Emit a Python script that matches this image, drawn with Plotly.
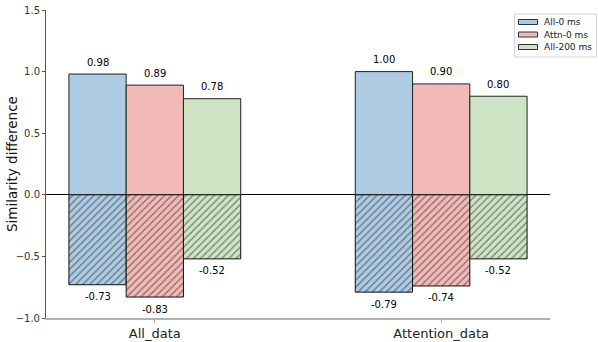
import plotly.graph_objects as go

categories = ["All_data", "Attention_data"]
series_names = ["All-0 ms", "Attn-0 ms", "All-200 ms"]
positive_values = [[0.98, 1.00], [0.89, 0.90], [0.78, 0.80]]
negative_values = [[-0.73, -0.79], [-0.83, -0.74], [-0.52, -0.52]]
colors = ["#aecbe4", "#f1bab6", "#cde4c4"]
ytick_vals = [-1.0, -0.5, 0.0, 0.5, 1.0, 1.5]
y_title = "Similarity difference"

W, H = 598, 342
L, R, T, B = 46, 48, 10, 24
PW, PH = W - L - R, H - T - B


def px_x(px):
    return (px - L) / PW


def px_y(py):
    return (H - B - py) / PH


xpos = list(range(len(categories)))
bar_w = 0.2
offsets = [-0.3, -0.1, 0.1]

fig = go.Figure()
annotations = []
shapes = []
for i, name in enumerate(series_names):
    fig.add_trace(go.Bar(
        x=xpos, y=positive_values[i], name=name, width=bar_w, offset=offsets[i],
        marker=dict(color=colors[i], line=dict(color="#222222", width=1)),
        showlegend=False,
    ))
    fig.add_trace(go.Bar(
        x=xpos, y=negative_values[i], name=name, width=bar_w, offset=offsets[i],
        marker=dict(color=colors[i], line=dict(color="#111111", width=1),
                    pattern=dict(shape="/", fgcolor="#1a1a1a", bgcolor=colors[i],
                                 size=5, solidity=0.25, fillmode="overlay")),
        showlegend=False,
    ))
    for j, x in enumerate(xpos):
        cx = x + offsets[i] + bar_w / 2
        pv = positive_values[i][j]
        nv = negative_values[i][j]
        annotations.append(dict(x=cx, y=pv, text=f"{pv:.2f}", showarrow=False,
                                yshift=12, font=dict(size=10, color="black")))
        annotations.append(dict(x=cx, y=nv, text=f"{nv:.2f}", showarrow=False,
                                yshift=-12, font=dict(size=10, color="black")))

# custom matplotlib-like legend
shapes.append(dict(type="rect", xref="paper", yref="paper",
                   x0=px_x(514.5), x1=px_x(596.5), y0=px_y(57), y1=px_y(14),
                   line=dict(color="#d5d5d5", width=1), fillcolor="white", layer="above"))
for i, name in enumerate(series_names):
    cy = 22 + i * 12.5
    shapes.append(dict(type="rect", xref="paper", yref="paper",
                       x0=px_x(518.5), x1=px_x(537.5), y0=px_y(cy + 2.5), y1=px_y(cy - 2.5),
                       line=dict(color="#333333", width=1), fillcolor=colors[i], layer="above"))
    annotations.append(dict(xref="paper", yref="paper", x=px_x(542), y=px_y(cy),
                            xanchor="left", yanchor="middle", text=name, showarrow=False,
                            font=dict(size=9, color="#222222")))

annotations.append(dict(xref="paper", yref="paper", x=px_x(12), y=0.5, text=y_title,
                        textangle=-90, showarrow=False, xanchor="center", yanchor="middle",
                        font=dict(size=13.5, color="#111111")))

fig.update_layout(
    width=W, height=H,
    margin=dict(l=L, r=R, t=T, b=B, autoexpand=False),
    paper_bgcolor="white", plot_bgcolor="white",
    barmode="overlay",
    font=dict(family="DejaVu Sans", color="#222222"),
    annotations=annotations,
    shapes=shapes,
    showlegend=False,
)
fig.update_xaxes(
    range=[-0.38, 1.38], tickvals=xpos, ticktext=categories,
    tickfont=dict(size=13, color="#222222"),
    showline=True, linecolor="#b0b0b0", linewidth=1.5,
    ticks="outside", ticklen=3, tickcolor="#b0b0b0",
    showgrid=False, zeroline=False, automargin=False,
)
fig.update_yaxes(
    range=[-1.0, 1.5], tickvals=ytick_vals, tickformat=".1f",
    tickfont=dict(size=10, color="#333333"),
    showline=True, linecolor="#555555", linewidth=1,
    ticks="outside", ticklen=3, tickcolor="#555555",
    showgrid=False, zeroline=True, zerolinecolor="black", zerolinewidth=1,
    automargin=False,
)

fig.write_html("out.html")
